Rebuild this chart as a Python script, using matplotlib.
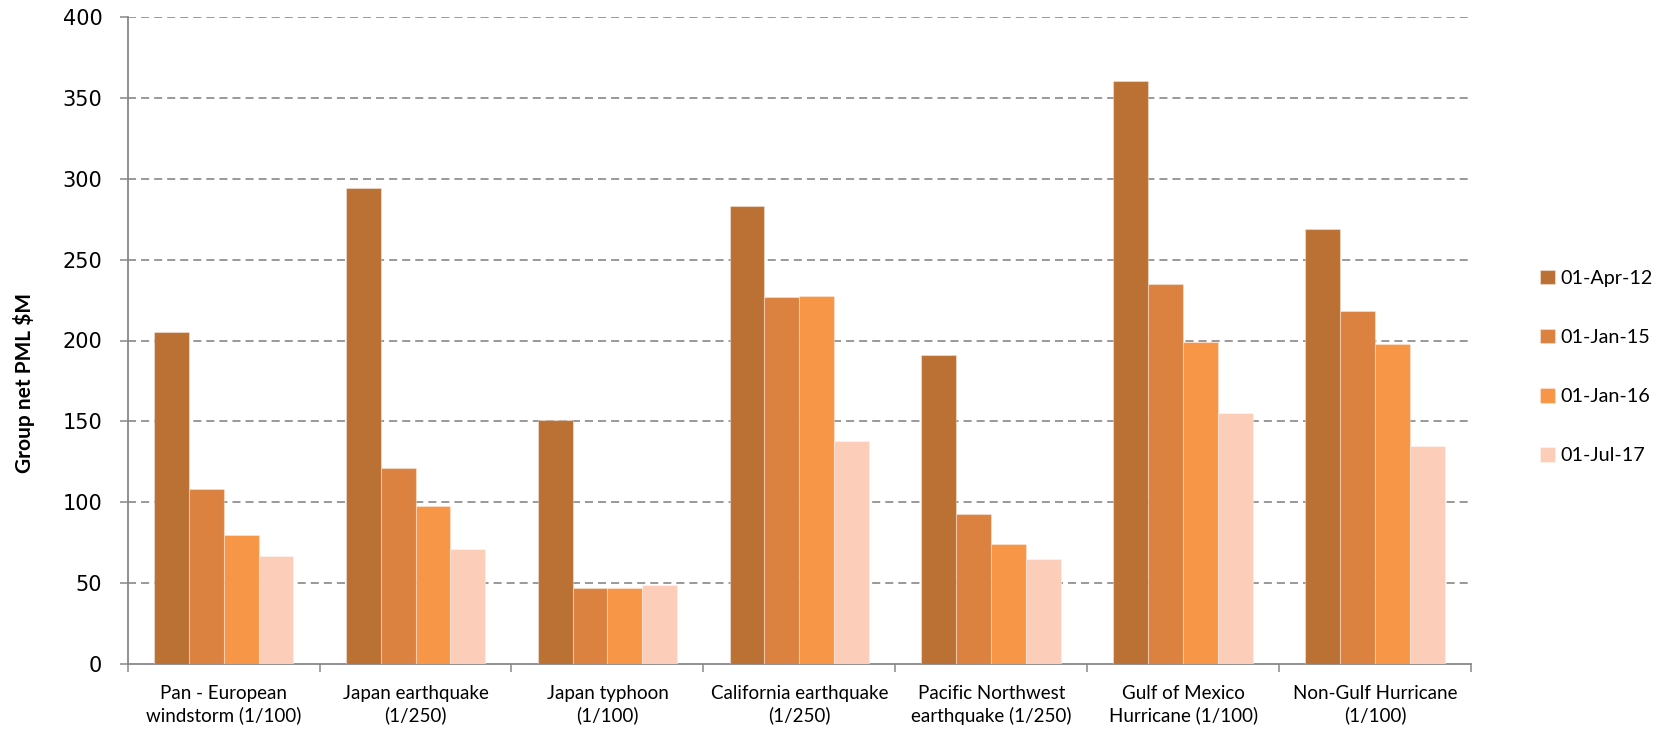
import matplotlib
matplotlib.use("Agg")
import matplotlib.pyplot as plt
import numpy as np

categories = ["Pan - European\nwindstorm (1/100)", "Japan earthquake\n(1/250)", "Japan typhoon\n(1/100)",
              "California earthquake\n(1/250)", "Pacific Northwest\nearthquake (1/250)",
              "Gulf of Mexico\nHurricane (1/100)", "Non-Gulf Hurricane\n(1/100)"]
series_names = ["01-Apr-12", "01-Jan-15", "01-Jan-16", "01-Jul-17"]
apr12 = [205, 294, 151, 283, 191, 360, 269]
jan15 = [108, 121, 47, 227, 93, 235, 218]
jan16 = [80, 97.5, 47, 227.5, 74, 199, 198]
jul17 = [67, 71, 49, 138, 65, 155, 135]
series = [apr12, jan15, jan16, jul17]
colors = ["#BB7134", "#DB8240", "#F79646", "#FCCDB8"]
yticks = [0, 50, 100, 150, 200, 250, 300, 350, 400]

plt.rcParams['lines.scale_dashes'] = False
W, H = 1675, 729
fig = plt.figure(figsize=(W/100, H/100), dpi=100)
ax = fig.add_axes([127.7/W, 1-664.3/H, (1471-127.7)/W, (664.3-16.7)/H])

x = np.arange(len(categories))
bw = 0.727/4
for i, (vals, c, name) in enumerate(zip(series, colors, series_names)):
    ax.bar(x + (i-1.5)*bw, vals, width=bw, color=c, label=name,
           edgecolor=(1, 1, 1, 0.35), linewidth=0.8, zorder=3)

ax.set_xlim(-0.5, len(categories)-0.5)
ax.set_ylim(0, 400)
ax.set_yticks(yticks)
ax.set_yticklabels([str(v) for v in yticks], fontsize=15, family="DejaVu Sans")
for v in yticks[1:]:
    ax.axhline(v, color="#999999", linewidth=1.4, linestyle=(0, (5.8, 3.6)), zorder=1)

ax.set_xticks(np.arange(len(categories)+1)-0.5)
ax.set_xticklabels([])
ax.set_xticks(x, minor=True)
ax.set_xticklabels(categories, minor=True, fontsize=13.5, family="Lato", linespacing=1.3)
ax.tick_params(axis='x', which='minor', length=0, pad=15)
ax.tick_params(axis='x', which='major', length=5.5, width=1.1, color="#888888", direction='out')
ax.tick_params(axis='y', length=5.8, width=1.1, color="#888888", pad=12.5)

for s in ['top', 'right']:
    ax.spines[s].set_visible(False)
for s in ['left', 'bottom']:
    ax.spines[s].set_color("#888888")
    ax.spines[s].set_linewidth(1.3)

fig.text(24/W, 1-383/H, "Group net PML $M", rotation=90, ha='center', va='center',
         fontsize=15, fontweight='bold', family="Lato")

fig.legend(loc='center left', bbox_to_anchor=(1540/W, 1-367.2/H), frameon=False,
           prop={'family': 'Lato', 'size': 14.2}, handlelength=0.74, handleheight=0.74,
           handletextpad=0.3, labelspacing=2.13, borderpad=0, borderaxespad=0)

fig.savefig("out.png", dpi=100)
